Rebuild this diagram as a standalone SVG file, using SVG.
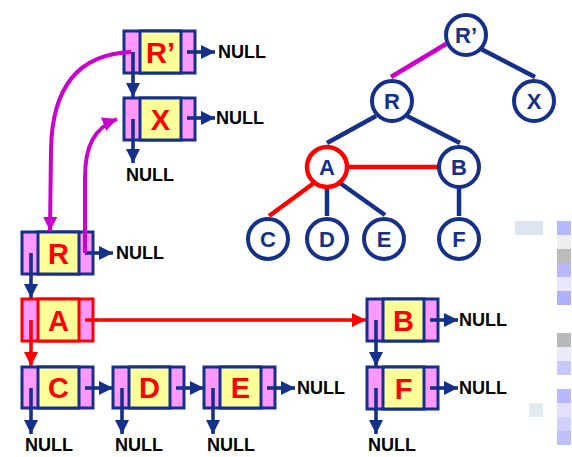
<svg xmlns="http://www.w3.org/2000/svg" width="572" height="457" viewBox="0 0 572 457">
<style>
.box{fill:#ff99ff;stroke:#14308a;stroke-width:3}
.boxr{fill:#ff99ff;stroke:#ff0000;stroke-width:3}
.mid{fill:#ffff99;stroke:#14308a;stroke-width:3}
.midr{fill:#ffff99;stroke:#ff0000;stroke-width:3}
.lbl{font-family:"Liberation Sans",Arial,sans-serif;font-weight:bold;font-size:29px;fill:#ff0000;text-anchor:middle}
.null{font-family:"Liberation Sans",Arial,sans-serif;font-weight:bold;font-size:18px;fill:#000}
.ptr{stroke:#14308a;stroke-width:3.6;fill:none}
.ptrr{stroke:#ff0000;stroke-width:3.6;fill:none}
.mag{stroke:#cc00cc;stroke-width:4;fill:none}
.edge{stroke:#14308a;stroke-width:4.5;fill:none}
.edger{stroke:#ff0000;stroke-width:4.5;fill:none}
.edgem{stroke:#cc00cc;stroke-width:4.5;fill:none}
.circ{fill:#fff;stroke:#14308a;stroke-width:4}
.circr{fill:#fff;stroke:#ff0000;stroke-width:4.5}
.tl{font-family:"Liberation Sans",Arial,sans-serif;font-weight:bold;font-size:22px;fill:#14308a;text-anchor:middle}
</style>
<defs>
<marker id="an" markerWidth="4" markerHeight="4" refX="4" refY="2" orient="auto" markerUnits="strokeWidth"><path d="M0,0 L4,2 L0,4 Z" fill="#14308a"/></marker>
<marker id="ar" markerWidth="4" markerHeight="4" refX="4" refY="2" orient="auto" markerUnits="strokeWidth"><path d="M0,0 L4,2 L0,4 Z" fill="#ff0000"/></marker>
<marker id="am" markerWidth="3.6" markerHeight="3.6" refX="3.6" refY="1.8" orient="auto" markerUnits="strokeWidth"><path d="M0,0 L3.6,1.8 L0,3.6 Z" fill="#cc00cc"/></marker>
</defs>
<rect width="572" height="457" fill="#fff"/>
<g id="artifacts">
<rect x="515" y="221" width="28" height="14" fill="#dde6f0"/>
<rect x="557" y="221" width="14" height="14" fill="#b8b8ff"/>
<rect x="557" y="235" width="14" height="14" fill="#efefef"/>
<rect x="557" y="249" width="14" height="14" fill="#bbbbbb"/>
<rect x="557" y="263" width="14" height="14" fill="#b8b8ff"/>
<rect x="557" y="277" width="14" height="14" fill="#ebe6ff"/>
<rect x="557" y="291" width="14" height="14" fill="#b0b0ff"/>
<rect x="557" y="333" width="14" height="14" fill="#b8b8b8"/>
<rect x="557" y="347" width="14" height="14" fill="#e8ecf8"/>
<rect x="557" y="361" width="14" height="14" fill="#c8c8ff"/>
<rect x="557" y="389" width="14" height="14" fill="#b8b8ff"/>
<rect x="557" y="403" width="14" height="14" fill="#e4e0ff"/>
<rect x="557" y="417" width="14" height="14" fill="#d0d0ff"/>
<rect x="557" y="431" width="14" height="14" fill="#c0c0ff"/>
<rect x="529" y="403" width="14" height="14" fill="#e4eaf2"/>
</g>
<g id="tree-edges">
<line class="edgem" x1="446" y1="44" x2="391" y2="77"/>
<line class="edge" x1="481" y1="49" x2="535" y2="77"/>
<line class="edge" x1="376" y1="116" x2="327" y2="143"/>
<line class="edge" x1="407" y1="116" x2="460" y2="143"/>
<line class="edger" x1="345" y1="167" x2="440" y2="167"/>
<line class="edger" x1="314" y1="183" x2="269" y2="216"/>
<line class="edge" x1="327" y1="186" x2="327" y2="216"/>
<line class="edge" x1="340" y1="183" x2="385" y2="215"/>
<line class="edge" x1="459" y1="186" x2="459" y2="216"/>
</g>
<g id="tree-Rp"><circle class="circ" cx="466" cy="35" r="20"/><text class="tl" x="466" y="43">R’</text></g>
<g id="tree-R"><circle class="circ" cx="392" cy="101" r="20"/><text class="tl" x="392" y="109">R</text></g>
<g id="tree-X"><circle class="circ" cx="534" cy="101" r="20"/><text class="tl" x="534" y="109">X</text></g>
<g id="tree-A"><circle class="circr" cx="327" cy="167" r="20"/><text class="tl" x="327" y="175">A</text></g>
<g id="tree-B"><circle class="circ" cx="459" cy="167" r="20"/><text class="tl" x="459" y="175">B</text></g>
<g id="tree-C"><circle class="circ" cx="268" cy="239" r="20"/><text class="tl" x="268" y="247">C</text></g>
<g id="tree-D"><circle class="circ" cx="327" cy="239" r="20"/><text class="tl" x="327" y="247">D</text></g>
<g id="tree-E"><circle class="circ" cx="384" cy="239" r="20"/><text class="tl" x="384" y="247">E</text></g>
<g id="tree-F"><circle class="circ" cx="459" cy="239" r="20"/><text class="tl" x="459" y="247">F</text></g>

<g id="list-Rp"><rect class="box" x="124" y="31" width="71" height="42"/><rect class="mid" x="140" y="31" width="41" height="42"/><text class="lbl" x="160.5" y="63">R’</text></g>
<g id="list-X"><rect class="box" x="124" y="98" width="71" height="42"/><rect class="mid" x="140" y="98" width="41" height="42"/><text class="lbl" x="160.5" y="130">X</text></g>
<g id="list-R"><rect class="box" x="22" y="232" width="71" height="42"/><rect class="mid" x="38" y="232" width="41" height="42"/><text class="lbl" x="58.5" y="264">R</text></g>
<g id="list-A"><rect class="boxr" x="22" y="299" width="71" height="42"/><rect class="midr" x="38" y="299" width="41" height="42"/><text class="lbl" x="58.5" y="331">A</text></g>
<g id="list-C"><rect class="box" x="22" y="367" width="71" height="41"/><rect class="mid" x="38" y="367" width="41" height="41"/><text class="lbl" x="58.5" y="398">C</text></g>
<g id="list-D"><rect class="box" x="113" y="367" width="71" height="41"/><rect class="mid" x="129" y="367" width="41" height="41"/><text class="lbl" x="149.5" y="398">D</text></g>
<g id="list-E"><rect class="box" x="204" y="367" width="71" height="41"/><rect class="mid" x="220" y="367" width="41" height="41"/><text class="lbl" x="240.5" y="398">E</text></g>
<g id="list-B"><rect class="box" x="367" y="299" width="71" height="42"/><rect class="mid" x="383" y="299" width="41" height="42"/><text class="lbl" x="403.5" y="331">B</text></g>
<g id="list-F"><rect class="box" x="367" y="367" width="71" height="42"/><rect class="mid" x="383" y="367" width="41" height="42"/><text class="lbl" x="403.5" y="399">F</text></g>

<g id="connectors">
<line class="ptr" x1="187" y1="52" x2="215" y2="52" marker-end="url(#an)"/>
<line class="ptr" x1="133" y1="52" x2="133" y2="97" marker-end="url(#an)"/>
<line class="ptr" x1="187" y1="118" x2="215" y2="118" marker-end="url(#an)"/>
<line class="ptr" x1="133" y1="119" x2="133" y2="163" marker-end="url(#an)"/>
<line class="ptr" x1="85" y1="253" x2="113" y2="253" marker-end="url(#an)"/>
<line class="ptr" x1="31" y1="253" x2="31" y2="298" marker-end="url(#an)"/>
<line class="ptrr" x1="85" y1="320" x2="366" y2="320" marker-end="url(#ar)"/>
<line class="ptrr" x1="31" y1="320" x2="31" y2="366" marker-end="url(#ar)"/>
<line class="ptr" x1="85" y1="388" x2="113" y2="388" marker-end="url(#an)"/>
<line class="ptr" x1="176" y1="388" x2="204" y2="388" marker-end="url(#an)"/>
<line class="ptr" x1="267" y1="388" x2="295" y2="388" marker-end="url(#an)"/>
<line class="ptr" x1="31" y1="388" x2="31" y2="434" marker-end="url(#an)"/>
<line class="ptr" x1="122" y1="388" x2="122" y2="434" marker-end="url(#an)"/>
<line class="ptr" x1="213" y1="388" x2="213" y2="434" marker-end="url(#an)"/>
<line class="ptr" x1="430" y1="320" x2="458" y2="320" marker-end="url(#an)"/>
<line class="ptr" x1="376" y1="320" x2="376" y2="366" marker-end="url(#an)"/>
<line class="ptr" x1="430" y1="388" x2="458" y2="388" marker-end="url(#an)"/>
<line class="ptr" x1="376" y1="388" x2="376" y2="434" marker-end="url(#an)"/>
<path class="mag" d="M131,52 C80,54 52,85 51,150 L50,231" marker-end="url(#am)"/>
<path class="mag" d="M85,253 L85,178 C85,146 94,128 117,119" marker-end="url(#am)"/>
</g>
<g id="nulls">
<text class="null" x="218" y="58">NULL</text>
<text class="null" x="216" y="124">NULL</text>
<text class="null" x="126" y="181">NULL</text>
<text class="null" x="116" y="259">NULL</text>
<text class="null" x="459" y="326">NULL</text>
<text class="null" x="459" y="394">NULL</text>
<text class="null" x="297" y="394">NULL</text>
<text class="null" x="25" y="451">NULL</text>
<text class="null" x="115" y="451">NULL</text>
<text class="null" x="207" y="451">NULL</text>
<text class="null" x="368" y="451">NULL</text>
</g>
</svg>
